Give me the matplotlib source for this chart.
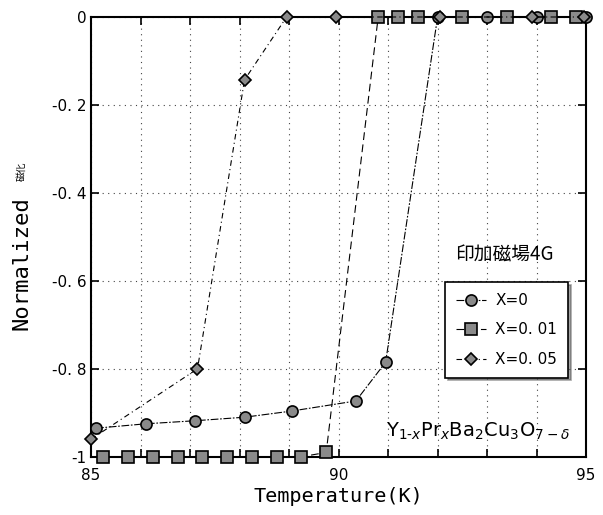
import matplotlib
matplotlib.use("Agg")
import matplotlib.pyplot as plt

plt.rcParams['font.family'] = ['DejaVu Sans', 'Noto Sans CJK JP']

# Data
t_x0 = [85.1, 86.1, 87.1, 88.1, 89.05, 90.35, 90.95, 92.0, 93.0, 94.0, 95.0]
m_x0 = [-0.935, -0.925, -0.918, -0.91, -0.896, -0.873, -0.785, 0.0, 0.0, 0.0, 0.0]

t_x001 = [85.25, 85.75, 86.25, 86.75, 87.25, 87.75, 88.25, 88.75, 89.25, 89.75,
          90.8, 91.2, 91.6, 92.5, 93.4, 94.3, 94.8]
m_x001 = [-1, -1, -1, -1, -1, -1, -1, -1, -1, -0.99,
          0, 0, 0, 0, 0, 0, 0]

t_x005 = [85.0, 87.15, 88.1, 88.95, 89.95, 92.05, 93.9, 94.95]
m_x005 = [-0.96, -0.80, -0.143, 0.0, 0.0, 0.0, 0.0, 0.0]

labels = ['X=0', 'X=0. 01', 'X=0. 05']
xticks = [85, 90, 95]
xtick_labels = ['85', '90', '95']
yticks = [0, -0.2, -0.4, -0.6, -0.8, -1]
ytick_labels = ['0', '-0. 2', '-0. 4', '-0. 6', '-0. 8', '-1']

fig = plt.figure(figsize=(6.03, 5.15), dpi=100)
ax = fig.add_axes([0.151, 0.113, 0.821, 0.854])

mk = dict(markerfacecolor='#8a8a8a', markeredgecolor='black', markeredgewidth=1.2,
          color='black', clip_on=False, zorder=3)
ax.plot(t_x0, m_x0, marker='o', markersize=8, linewidth=0.8,
        linestyle=(0, (7, 1.5, 1.5, 1.5)), label=labels[0], **mk)
ax.plot(t_x001, m_x001, marker='s', markersize=8.5, linewidth=0.8,
        linestyle=(0, (7, 4)), label=labels[1], **mk)
ax.plot(t_x005, m_x005, marker='D', markersize=6, linewidth=0.8,
        linestyle=(0, (5, 3, 1, 3)), label=labels[2], **mk)

ax.set_xlim(85, 95)
ax.set_ylim(-1, 0)
ax.set_xticks(xticks)
ax.set_xticklabels(xtick_labels, fontsize=11)
ax.set_xticks(range(85, 96), minor=True)
ax.set_yticks(yticks)
ax.set_yticklabels(ytick_labels, fontsize=11)
ax.tick_params(which='both', direction='in', top=True, right=True, length=6, width=1.2)
ax.tick_params(axis='x', pad=8)
ax.grid(True, which='both', linestyle=(0, (1, 4)), color='#444444', linewidth=0.8)
for s in ax.spines.values():
    s.set_linewidth(1.5)

ax.set_xlabel('Temperature(K)', fontsize=14.5, family='DejaVu Sans Mono', labelpad=3)
fig.text(0.036, 0.49, 'Normalized', rotation=90, fontsize=16, family='DejaVu Sans Mono',
         ha='center', va='center')
fig.text(0.036, 0.668, '磁化', rotation=90, fontsize=7, family='Noto Sans CJK JP',
         ha='center', va='center')

ax.text(0.735, 0.458, '印加磁場4G', transform=ax.transAxes, fontsize=13.5,
        family=['Noto Sans CJK JP'], ha='left', va='center')
ax.text(0.595, 0.058, r'Y$_{1\text{-}x}$Pr$_{x}$Ba$_{2}$Cu$_{3}$O$_{7-\delta}$',
        transform=ax.transAxes, fontsize=14, ha='left', va='center')

leg = ax.legend(loc='lower left', bbox_to_anchor=(0.715, 0.18), borderaxespad=0,
                frameon=True, fancybox=False, shadow=True,
                edgecolor='black', handlelength=2.0, labelspacing=0.95,
                borderpad=0.7, handletextpad=0.6, prop={'size': 11})
leg.get_frame().set_linewidth(1.2)

fig.savefig('out.png', dpi=100)
